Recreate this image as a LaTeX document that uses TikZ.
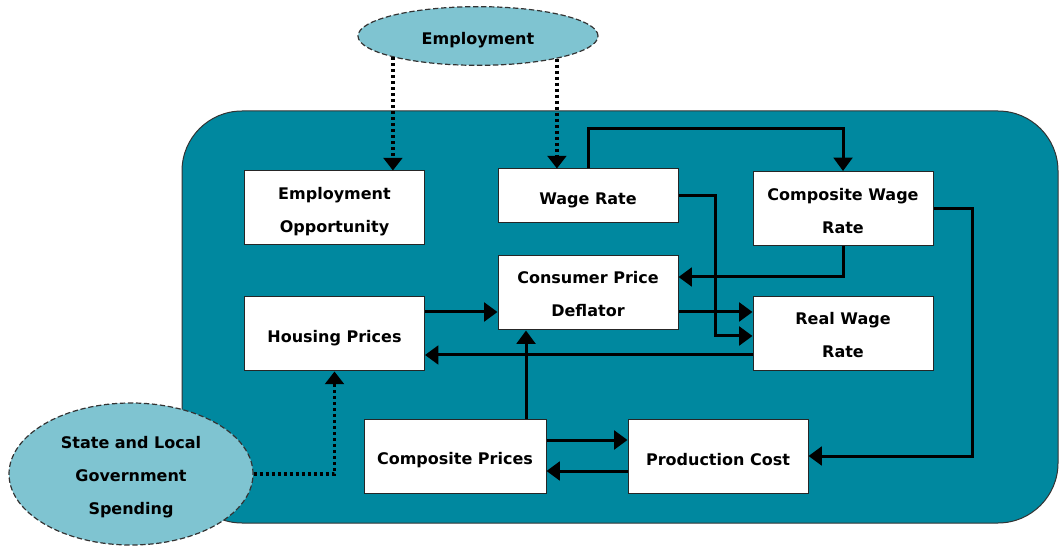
\documentclass[tikz,border=0pt]{standalone}
\usepackage{fontspec}
\setmainfont{DejaVu Sans}
\usetikzlibrary{arrows.meta,shapes.geometric,calc}
\definecolor{tealbg}{HTML}{00889F}
\definecolor{lightteal}{HTML}{7FC4D1}
\begin{document}
\begin{tikzpicture}[x=0.75pt,y=-0.75pt,
  lbl/.style={font=\bfseries\fontsize{12}{24.75}\selectfont, execute at begin node={\rule{0pt}{15pt}}},
  box/.style={lbl, draw=black!85, line width=0.75pt, fill=white, minimum width=135pt, minimum height=55.5pt, inner sep=0pt, align=center},
  oval/.style={lbl, ellipse, draw=black!80, dash pattern=on 4pt off 2pt, line width=0.9pt, fill=lightteal, inner sep=0pt, align=center},
  arr/.style={line width=2.25pt, -{Triangle[width=14pt,length=10pt]}},
  dotarr/.style={line width=2.6pt, dash pattern=on 2.25pt off 2.25pt, -{Triangle[width=14pt,length=9.5pt]}}
]
\useasboundingbox (0,0) rectangle (1059,548);
\path[fill=tealbg, draw=black!80, line width=0.75pt, rounded corners=45pt] (182,111) rectangle (1058,523);

\node[oval, minimum width=180pt, minimum height=44pt] (emp) at (478,36) {Employment};
\node[oval, minimum width=183pt, minimum height=106.5pt, text height=64pt] (slg) at (131,474) {State and Local\\Government\\Spending};

\node[box, text height=40pt] (EO) at (334.5,208) {Employment\\Opportunity};
\node[box] (HP) at (334.5,334) {Housing Prices};
\node[box, minimum height=40.5pt] (WR) at (588,196) {Wage Rate};
\node[box, text height=38pt] (CWR) at (843,208.5) {Composite Wage\\Rate};
\node[box, text height=35.5pt] (CPD) at (588,293) {Consumer Price\\Deflator};
\node[box, text height=35pt] (RWR) at (843,334) {Real Wage\\Rate};
\node[box, minimum width=136.5pt] (CP) at (455,456) {Composite Prices};
\node[box] (PC) at (718,456) {Production Cost};

\draw[dotarr] (emp.194.5) -- (emp.194.5 |- EO.north);
\draw[dotarr] (emp.-16.5) -- (emp.-16.5 |- WR.north);
\draw[arr] (WR.north) -- ++(0,-40) -| (CWR.north);
\draw[arr] (WR.east) -- ++(37,0) |- ($(RWR.west)+(0,2)$);
\draw[arr] (CWR.south) |- ($(CPD.east)+(0,-16)$);
\draw[arr] ($(CPD.east)+(0,19)$) -- ($(RWR.west)+(0,-22)$);
\draw[arr] ($(HP.east)+(0,-22)$) -- ($(CPD.west)+(0,19)$);
\draw[arr] ($(RWR.west)+(0,21)$) -- ($(HP.east)+(0,21)$);
\coordinate (cpup) at ($(CP.north)+(71,0)$);
\draw[arr] (cpup) -- (cpup |- CPD.south);
\draw[arr] ($(CP.east)+(0,-16)$) -- ($(PC.west)+(0,-16)$);
\draw[arr] ($(PC.west)+(0,15)$) -- ($(CP.east)+(0,15)$);
\draw[arr] (CWR.east) -- ++(39,0) |- (PC.east);
\draw[dotarr] (slg.east) -| (HP.south);
\end{tikzpicture}
\end{document}
